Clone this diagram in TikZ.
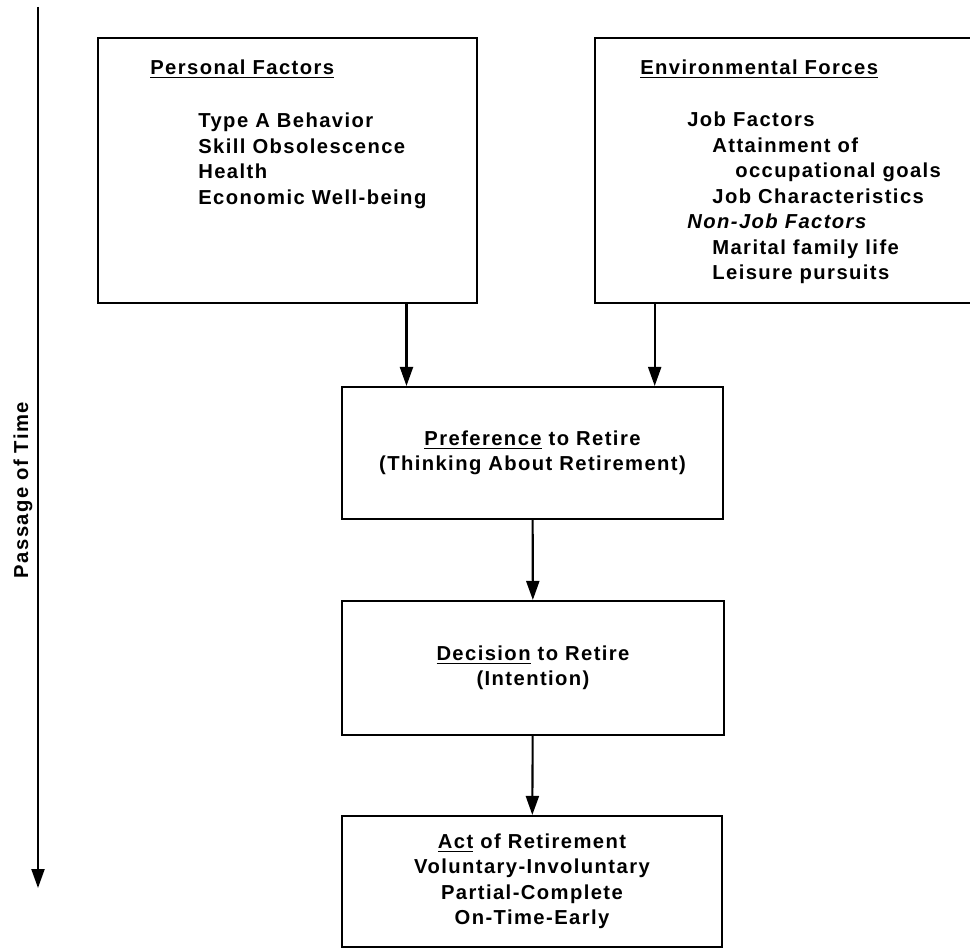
\documentclass[tikz,border=0pt]{standalone}
\usepackage{fontspec}
\setmainfont{Liberation Sans}[LetterSpace=7]
\usetikzlibrary{arrows.meta,calc}

\tikzset{
  box/.style={draw, line width=1.2pt, align=center, inner sep=0pt},
  arr/.style={line width=1.2pt, -{Triangle[length=3.8mm,width=2.6mm]}},
  lbl/.style={inner sep=0pt, align=left},
}

\begin{document}
\begin{tikzpicture}[x=0.02cm, y=-0.02cm,
    every node/.style={font=\fontsize{11.5}{14.5}\selectfont\bfseries}]
  \useasboundingbox (0,0) rectangle (970,949);
  \clip (0,0) rectangle (970,949);
  % time axis
  \coordinate (t0) at (38,7);
  \coordinate (t1) at (38,888);
  \draw[arr, line width=1.3pt] (t0) -- (t1);
  \node[rotate=90] (time) at (23,490) {Passage of Time};
  % the two factor boxes
  \node[box, minimum width=7.58cm, minimum height=5.3cm] (pers) at (287.5,170.5) {};
  \node[box, minimum width=7.9cm, minimum height=5.3cm] (env) at (792.5,170.5) {};
  \node[lbl, anchor=base west] (pershead) at (150,75) {\underline{Personal Factors}};
  \node[lbl, anchor=north west] (perslist) at (198,113) {Type A Behavior\\
    Skill Obsolescence\\
    Health\\
    Economic Well-being};
  \node[lbl, anchor=base west] (envhead) at (640,75) {\underline{Environmental Forces}};
  \node[lbl, anchor=north west] (envlist) at (687,112) {Job Factors\\
    \hspace*{0.5cm}Attainment of\\
    \hspace*{0.96cm}occupational goals\\
    \hspace*{0.5cm}Job Characteristics\\
    {\itshape Non-Job Factors}\\
    \hspace*{0.5cm}Marital family life\\
    \hspace*{0.5cm}Leisure pursuits};
  % the three stages
  \node[box, minimum width=7.62cm, minimum height=2.64cm] (pref) at (532.5,453)
    {\underline{Preference} to Retire\\(Thinking About Retirement)};
  \node[box, minimum width=7.64cm, minimum height=2.68cm] (dec) at (533,668)
    {\underline{Decision} to Retire\\(Intention)};
  \node[box, minimum width=7.6cm, minimum height=2.62cm] (act) at (532,881.5)
    {\underline{Act} of Retirement\\Voluntary-Involuntary\\Partial-Complete\\On-Time-Early};
  % connectors
  \coordinate (inA) at ($(pref.north west)!0.171!(pref.north east)$);
  \coordinate (inB) at ($(pref.north west)!0.819!(pref.north east)$);
  \draw[arr] (pers.south -| inA) -- (inA);
  \draw[arr] (env.south -| inB) -- (inB);
  \draw[arr] (pref) -- (dec);
  \draw[arr] (dec) -- (act);
\end{tikzpicture}
\end{document}
